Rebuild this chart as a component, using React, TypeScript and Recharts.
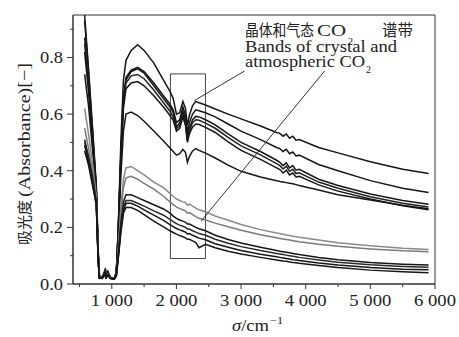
import { LineChart, Line, XAxis, YAxis, ReferenceArea, ReferenceLine } from 'recharts';

// wavenumber grid (cm^-1) shared by all spectra
const WAVENUMBER = [
  580, 640, 700, 760, 790, 810,
  850, 880, 900, 915, 940, 980, 1040,
  1070, 1100, 1140, 1180, 1220,
  1300, 1400, 1500, 1650, 1800, 1900, 1950,
  2000, 2050, 2100, 2140, 2170, 2200, 2250, 2300, 2350, 2450,
  2600, 2800, 3000, 3300, 3550, 3600, 3650, 3700, 3750, 3800, 3850, 3900, 4200, 4500, 5000, 5500, 5900,
];

const ABS_A = [0.95, 0.76, 0.56, 0.35, 0.12, 0.025, 0.022, 0.035, 0.055, 0.03, 0.045, 0.024, 0.02, 0.04, 0.2, 0.5, 0.72, 0.79, 0.825, 0.845, 0.825, 0.78, 0.72, 0.68, 0.655, 0.6, 0.605, 0.645, 0.62, 0.56, 0.595, 0.63, 0.645, 0.64, 0.632, 0.618, 0.6, 0.583, 0.558, 0.535, 0.532, 0.522, 0.53, 0.515, 0.522, 0.508, 0.51, 0.482, 0.463, 0.432, 0.405, 0.39];
const ABS_B = [0.93, 0.75, 0.55, 0.34, 0.11, 0.024, 0.024, 0.04, 0.05, 0.028, 0.04, 0.022, 0.021, 0.04, 0.19, 0.46, 0.66, 0.73, 0.755, 0.765, 0.75, 0.71, 0.665, 0.635, 0.615, 0.57, 0.58, 0.625, 0.595, 0.535, 0.57, 0.6, 0.615, 0.612, 0.605, 0.59, 0.565, 0.54, 0.51, 0.482, 0.478, 0.468, 0.476, 0.46, 0.466, 0.452, 0.455, 0.422, 0.4, 0.365, 0.338, 0.323];
const ABS_C1 = [0.87, 0.71, 0.53, 0.34, 0.11, 0.023, 0.02, 0.03, 0.048, 0.025, 0.038, 0.02, 0.018, 0.04, 0.19, 0.45, 0.65, 0.72, 0.75, 0.76, 0.745, 0.7, 0.655, 0.625, 0.605, 0.555, 0.57, 0.61, 0.58, 0.515, 0.55, 0.58, 0.592, 0.59, 0.58, 0.562, 0.53, 0.5, 0.468, 0.437, 0.43, 0.418, 0.428, 0.41, 0.418, 0.402, 0.405, 0.37, 0.348, 0.318, 0.295, 0.282];
const ABS_C2 = [0.85, 0.7, 0.52, 0.33, 0.1, 0.022, 0.021, 0.033, 0.05, 0.027, 0.036, 0.021, 0.019, 0.04, 0.18, 0.44, 0.64, 0.71, 0.735, 0.74, 0.725, 0.685, 0.64, 0.61, 0.59, 0.548, 0.56, 0.6, 0.57, 0.505, 0.54, 0.57, 0.58, 0.578, 0.568, 0.55, 0.518, 0.488, 0.456, 0.425, 0.418, 0.406, 0.416, 0.398, 0.405, 0.39, 0.393, 0.36, 0.338, 0.308, 0.285, 0.272];
const ABS_C3 = [0.82, 0.68, 0.51, 0.33, 0.1, 0.022, 0.02, 0.028, 0.045, 0.026, 0.035, 0.02, 0.018, 0.04, 0.18, 0.43, 0.62, 0.69, 0.71, 0.715, 0.7, 0.665, 0.625, 0.595, 0.578, 0.54, 0.55, 0.59, 0.56, 0.5, 0.53, 0.555, 0.565, 0.563, 0.553, 0.535, 0.502, 0.472, 0.44, 0.41, 0.404, 0.392, 0.402, 0.385, 0.392, 0.378, 0.38, 0.35, 0.328, 0.3, 0.276, 0.262];
const ABS_D = [0.74, 0.63, 0.48, 0.32, 0.1, 0.021, 0.023, 0.03, 0.046, 0.028, 0.04, 0.022, 0.02, 0.035, 0.16, 0.38, 0.54, 0.6, 0.607, 0.595, 0.575, 0.54, 0.505, 0.48, 0.468, 0.455, 0.46, 0.475, 0.465, 0.43, 0.45, 0.47, 0.478, 0.472, 0.462, 0.445, 0.42, 0.398, 0.378, 0.365, 0.362, 0.36, 0.358, 0.356, 0.354, 0.351, 0.348, 0.332, 0.315, 0.297, 0.278, 0.266];
const ABS_E = [0.62, 0.53, 0.43, 0.31, 0.09, 0.021, 0.02, 0.03, 0.045, 0.025, 0.035, 0.02, 0.018, 0.03, 0.12, 0.27, 0.37, 0.41, 0.415, 0.4, 0.385, 0.36, 0.34, 0.32, 0.31, 0.3, 0.295, 0.29, 0.288, 0.278, 0.282, 0.275, 0.268, 0.262, 0.255, 0.24, 0.225, 0.21, 0.192, 0.18, 0.178, 0.176, 0.173, 0.171, 0.169, 0.167, 0.165, 0.155, 0.146, 0.135, 0.126, 0.122];
const ABS_F = [0.55, 0.48, 0.4, 0.3, 0.09, 0.02, 0.021, 0.032, 0.044, 0.026, 0.034, 0.021, 0.019, 0.03, 0.11, 0.25, 0.34, 0.375, 0.38, 0.37, 0.355, 0.335, 0.31, 0.29, 0.28, 0.272, 0.266, 0.262, 0.258, 0.25, 0.252, 0.245, 0.238, 0.232, 0.226, 0.215, 0.202, 0.19, 0.174, 0.163, 0.161, 0.159, 0.157, 0.155, 0.153, 0.151, 0.149, 0.14, 0.133, 0.124, 0.117, 0.114];
const ABS_G = [0.51, 0.45, 0.38, 0.29, 0.08, 0.02, 0.02, 0.03, 0.042, 0.024, 0.033, 0.02, 0.018, 0.03, 0.1, 0.21, 0.29, 0.315, 0.315, 0.305, 0.295, 0.28, 0.265, 0.25, 0.24, 0.232, 0.226, 0.222, 0.218, 0.212, 0.212, 0.206, 0.2, 0.195, 0.188, 0.172, 0.157, 0.145, 0.13, 0.118, 0.116, 0.114, 0.112, 0.11, 0.108, 0.106, 0.104, 0.094, 0.086, 0.076, 0.07, 0.067];
const ABS_H = [0.5, 0.44, 0.37, 0.29, 0.08, 0.02, 0.02, 0.031, 0.043, 0.025, 0.032, 0.02, 0.018, 0.03, 0.1, 0.2, 0.27, 0.295, 0.295, 0.285, 0.275, 0.258, 0.243, 0.228, 0.22, 0.213, 0.208, 0.204, 0.2, 0.194, 0.194, 0.188, 0.183, 0.178, 0.172, 0.158, 0.144, 0.132, 0.118, 0.108, 0.106, 0.104, 0.102, 0.1, 0.098, 0.096, 0.094, 0.085, 0.077, 0.068, 0.062, 0.059];
const ABS_I = [0.49, 0.43, 0.36, 0.28, 0.08, 0.02, 0.021, 0.029, 0.041, 0.024, 0.031, 0.02, 0.018, 0.03, 0.09, 0.19, 0.26, 0.285, 0.285, 0.275, 0.262, 0.243, 0.225, 0.21, 0.203, 0.196, 0.191, 0.187, 0.183, 0.177, 0.178, 0.172, 0.167, 0.162, 0.156, 0.142, 0.13, 0.118, 0.105, 0.096, 0.094, 0.092, 0.09, 0.088, 0.086, 0.085, 0.083, 0.074, 0.067, 0.058, 0.052, 0.05];
const ABS_J = [0.47, 0.42, 0.35, 0.28, 0.08, 0.02, 0.02, 0.03, 0.04, 0.023, 0.03, 0.019, 0.018, 0.03, 0.09, 0.18, 0.25, 0.27, 0.27, 0.26, 0.245, 0.222, 0.202, 0.188, 0.182, 0.176, 0.171, 0.167, 0.163, 0.158, 0.158, 0.152, 0.146, 0.128, 0.14, 0.128, 0.116, 0.106, 0.094, 0.085, 0.083, 0.081, 0.08, 0.078, 0.076, 0.075, 0.073, 0.065, 0.058, 0.049, 0.043, 0.04];

const X_TICKS = [500, 1000, 1500, 2000, 2500, 3000, 3500, 4000, 4500, 5000, 5500, 6000];
const Y_TICKS = [0, 0.1, 0.2, 0.3, 0.4, 0.5, 0.6, 0.7, 0.8, 0.9];

const SERIES = [
  { key: 'a', values: ABS_A, color: '#161616' },
  { key: 'b', values: ABS_B, color: '#161616' },
  { key: 'c1', values: ABS_C1, color: '#161616' },
  { key: 'c2', values: ABS_C2, color: '#222' },
  { key: 'c3', values: ABS_C3, color: '#161616' },
  { key: 'd', values: ABS_D, color: '#161616' },
  { key: 'e', values: ABS_E, color: '#8a8a8a' },
  { key: 'f', values: ABS_F, color: '#7a7a7a' },
  { key: 'g', values: ABS_G, color: '#161616' },
  { key: 'h', values: ABS_H, color: '#2a2a2a' },
  { key: 'i', values: ABS_I, color: '#161616' },
  { key: 'j', values: ABS_J, color: '#161616' },
];

const data = WAVENUMBER.map((w, i) => {
  const row: Record<string, number> = { w };
  SERIES.forEach(s => { row[s.key] = s.values[i]; });
  return row;
});

const LATIN = '"Liberation Serif", "Times New Roman", serif';
const CJK = '"Noto Sans CJK SC", sans-serif';
const INK = '#222';

// the reference's serif face is set wider than Times, so stretch with textLength
function XTick({ x, y, payload }: any) {
  const v = payload.value;
  const major = v % 1000 === 0;
  return (
    <g>
      <line x1={x} x2={x} y1={y} y2={y + (major ? 5 : 3)} stroke="#333" />
      {major && (
        <text x={x - 21} y={y + 21.5} fontSize={16} fill={INK} style={{ fontFamily: LATIN }}
          textLength={42} lengthAdjust="spacingAndGlyphs">
          {`${v / 1000} 000`}
        </text>
      )}
    </g>
  );
}

function YTick({ x, y, payload }: any) {
  const v = payload.value;
  const major = Math.round(v * 10) % 2 === 0;
  return (
    <g>
      <line x1={x - (major ? 6 : 3)} x2={x} y1={y} y2={y} stroke="#333" />
      {major && (
        <text x={x - 33} y={y + 6} fontSize={17} fill={INK} style={{ fontFamily: LATIN }}
          textLength={23} lengthAdjust="spacingAndGlyphs">
          {v.toFixed(1)}
        </text>
      )}
    </g>
  );
}

export default function App() {
  return (
    <div style={{ position: 'absolute', left: 0, top: 0, width: 459, height: 337, background: '#fff' }}>
      <LineChart width={459} height={337} data={data} margin={{ top: 15, right: 24, bottom: 0, left: 0 }}>
        <XAxis
          dataKey="w"
          type="number"
          domain={[400, 6000]}
          ticks={X_TICKS}
          interval={0}
          height={53}
          tickSize={0}
          tickMargin={0}
          tick={XTick}
          stroke="#333"
        />
        <YAxis
          type="number"
          domain={[0, 0.95]}
          ticks={Y_TICKS}
          interval={0}
          width={73}
          tickSize={0}
          tickMargin={0}
          tick={YTick}
          stroke="#333"
        />
        <ReferenceArea x1={400} x2={6000} y1={0} y2={0.95} fill="none" stroke="#333" strokeWidth={1} />
        {SERIES.map(s => (
          <Line
            key={s.key}
            dataKey={s.key}
            type="linear"
            stroke={s.color}
            strokeWidth={1.5}
            dot={false}
            isAnimationActive={false}
          />
        ))}
        {/* CO2 band box and leader lines */}
        <ReferenceArea x1={1907} x2={2449} y1={0.09} y2={0.742} fill="none" stroke="#444" strokeWidth={1} />
        <ReferenceLine segment={[{ x: 3053, y: 0.752 }, { x: 2279, y: 0.648 }]} stroke="#333" />
        <ReferenceLine segment={[{ x: 4291, y: 0.752 }, { x: 2382, y: 0.222 }]} stroke="#333" />
      </LineChart>

      {/* titles and annotation */}
      <svg width={459} height={337} style={{ position: 'absolute', left: 0, top: 0, pointerEvents: 'none' }}>
        <g fill={INK}>
          <text x={245} y={36} fontSize={15.5} style={{ fontFamily: CJK }} textLength={69} lengthAdjust="spacingAndGlyphs">晶体和气态</text>
          <text x={317} y={36} fontSize={16} style={{ fontFamily: LATIN }} textLength={29} lengthAdjust="spacingAndGlyphs">CO</text>
          <text x={348} y={45} fontSize={10} style={{ fontFamily: LATIN }}>2</text>
          <text x={382} y={36} fontSize={15.5} style={{ fontFamily: CJK }} textLength={31} lengthAdjust="spacingAndGlyphs">谱带</text>

          <text x={245} y={51.5} fontSize={16} style={{ fontFamily: LATIN }} textLength={152} lengthAdjust="spacingAndGlyphs">Bands of crystal and</text>

          <text x={245} y={66.5} fontSize={16} style={{ fontFamily: LATIN }} textLength={120} lengthAdjust="spacingAndGlyphs">atmospheric CO</text>
          <text x={366} y={73} fontSize={10} style={{ fontFamily: LATIN }}>2</text>

          <g transform="translate(30,154) rotate(-90)">
            <text x={-91} y={0} fontSize={15} style={{ fontFamily: CJK }} textLength={45} lengthAdjust="spacingAndGlyphs">吸光度</text>
            <text x={-43} y={0} fontSize={17} style={{ fontFamily: LATIN }} textLength={134} lengthAdjust="spacingAndGlyphs">(Absorbance)[−]</text>
          </g>

          <text x={232} y={331} fontSize={16} style={{ fontFamily: LATIN }} textLength={37} lengthAdjust="spacingAndGlyphs">
            <tspan fontStyle="italic">σ</tspan>/cm
          </text>
          <text x={270} y={324} fontSize={10} style={{ fontFamily: LATIN }} textLength={13} lengthAdjust="spacingAndGlyphs">−1</text>
        </g>
      </svg>
    </div>
  );
}
